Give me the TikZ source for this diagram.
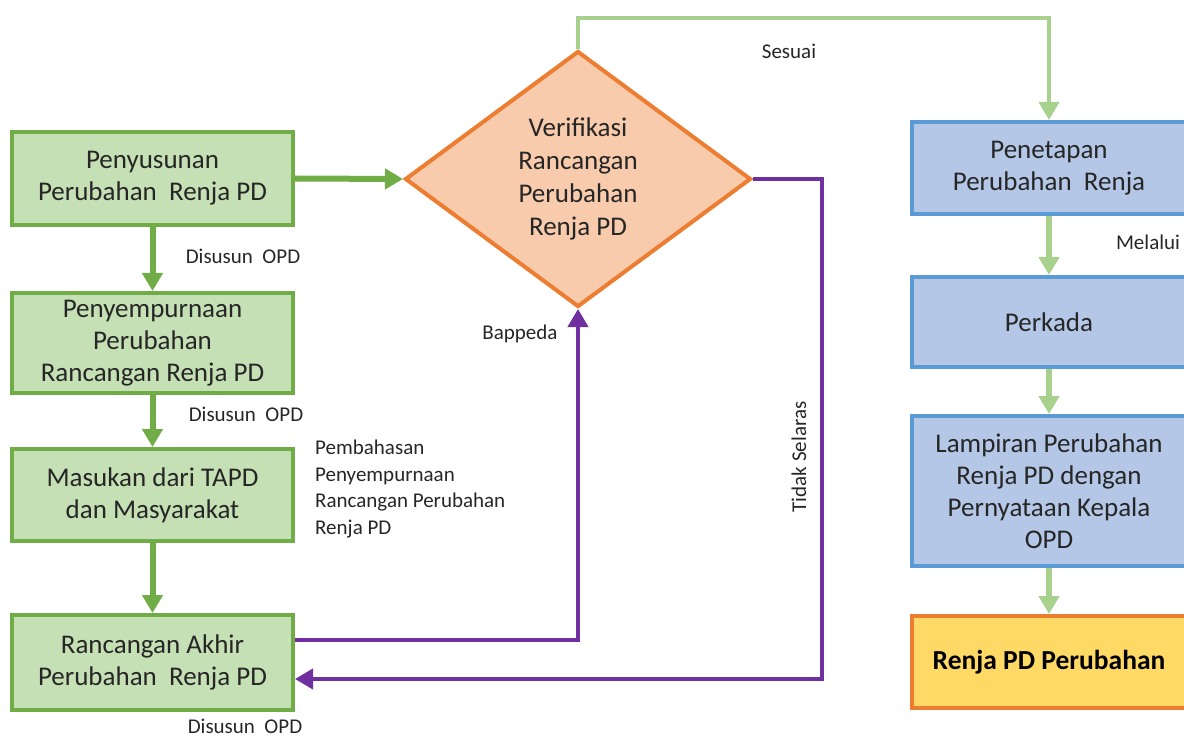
\documentclass[tikz,border=0pt]{standalone}
\usepackage{fontspec}
\setmainfont{Carlito}
\usetikzlibrary{shapes.geometric,arrows.meta}
\definecolor{gfill}{HTML}{C5E0B4}
\definecolor{gdraw}{HTML}{70AD47}
\definecolor{bfill}{HTML}{B4C7E7}
\definecolor{bdraw}{HTML}{5B9BD5}
\definecolor{ofill}{HTML}{F8CBAD}
\definecolor{odraw}{HTML}{ED7D31}
\definecolor{yfill}{HTML}{FFD966}
\definecolor{purp}{HTML}{7030A0}
\definecolor{lgreen}{HTML}{A9D18E}
\definecolor{txt}{HTML}{262626}
\tikzset{
  boxtext/.style={font=\fontsize{27}{32}\selectfont, text=txt, align=center, inner sep=0pt},
  greenbox/.style={boxtext, rectangle, draw=gdraw, fill=gfill, line width=4pt, minimum width=281, minimum height=93},
  bluebox/.style={boxtext, rectangle, draw=bdraw, fill=bfill, line width=4pt, minimum width=274},
  decision/.style={boxtext, diamond, draw=odraw, fill=ofill, line width=4pt, minimum width=346, minimum height=256, shape aspect=1.35, font=\fontsize{27}{33}\selectfont},
  lbl/.style={font=\fontsize{21}{26.5}\selectfont, text=txt, inner sep=0pt},
  darrow/.style={draw=gdraw, line width=6pt, -{Triangle[width=20pt,length=18pt]}},
  larrow/.style={draw=lgreen, line width=6pt, -{Triangle[width=20pt,length=18pt]}},
  parrow/.style={draw=purp, line width=4pt, -{Triangle[width=20pt,length=18pt]}},
}
\begin{document}
\begin{tikzpicture}[x=1pt,y=-1pt]
\useasboundingbox (0,0) rectangle (1184,738);
% left column
\node[greenbox] (b1) at (152.5,178.5) {Penyusunan\\Perubahan~ Renja PD};
\node[greenbox, minimum height=100] (b2) at (152.5,343) {Penyempurnaan\\Perubahan\\Rancangan Renja PD};
\node[greenbox, minimum height=92] (b3) at (152.5,495) {Masukan dari TAPD\\dan Masyarakat};
\node[greenbox, minimum height=95] (b4) at (152.5,662.5) {Rancangan Akhir\\Perubahan~ Renja PD};
% decision
\node[decision] (dia) at (578,179) {Verifikasi\\Rancangan\\Perubahan\\Renja PD};
% right column
\node[bluebox, minimum height=92] (r1) at (1049,168) {Penetapan\\Perubahan~ Renja};
\node[bluebox, minimum height=90] (r2) at (1049,322) {Perkada};
\node[bluebox, minimum height=150] (r3) at (1049,491) {Lampiran Perubahan\\Renja PD dengan\\Pernyataan Kepala\\OPD};
\node[boxtext, rectangle, draw=odraw, fill=yfill, line width=4pt, minimum width=274, minimum height=92, font=\fontsize{27.5}{30}\selectfont\bfseries, text=black] (r4) at (1049,662) {Renja PD Perubahan};
% coordinates
\coordinate (top) at (578,18);
\coordinate (pr) at (822,179);
\coordinate (pb) at (822,679);
\coordinate (pl) at (578,640);
% dark green arrows
\draw[darrow] (b1) -- (b2);
\draw[darrow] (b2) -- (b3);
\draw[darrow] (b3) -- (b4);
\draw[darrow] (b1.east) -- (dia.west);
% light green
\draw[draw=lgreen, line width=4pt, -{Triangle[width=20pt,length=18pt]}] (dia.north) -- (top) -| (r1.north);
\draw[larrow] (r1) -- (r2);
\draw[larrow] (r2) -- (r3);
\draw[larrow] (r3) -- (r4);
% purple
\draw[parrow] (dia.east) -- (pr) -- (pb) -- (b4.east |- pb);
\draw[parrow] (b4.east |- pl) -- (pl) -- (dia.south);
% labels
\node[lbl] (l1) at (243,256) {Disusun~ OPD};
\node[lbl] (l2) at (246,414) {Disusun~ OPD};
\node[lbl] (l3) at (245,726) {Disusun~ OPD};
\node[lbl, anchor=north west, align=left] (l4) at (315,440) {Pembahasan\\Penyempurnaan\\Rancangan Perubahan\\Renja PD};
\node[lbl] (l5) at (520,334) {Bappeda};
\node[lbl, rotate=90] (l6) at (799,457) {Tidak Selaras};
\node[lbl] (l7) at (789,51) {Sesuai};
\node[lbl] (l8) at (1148,242) {Melalui};
\end{tikzpicture}
\end{document}
